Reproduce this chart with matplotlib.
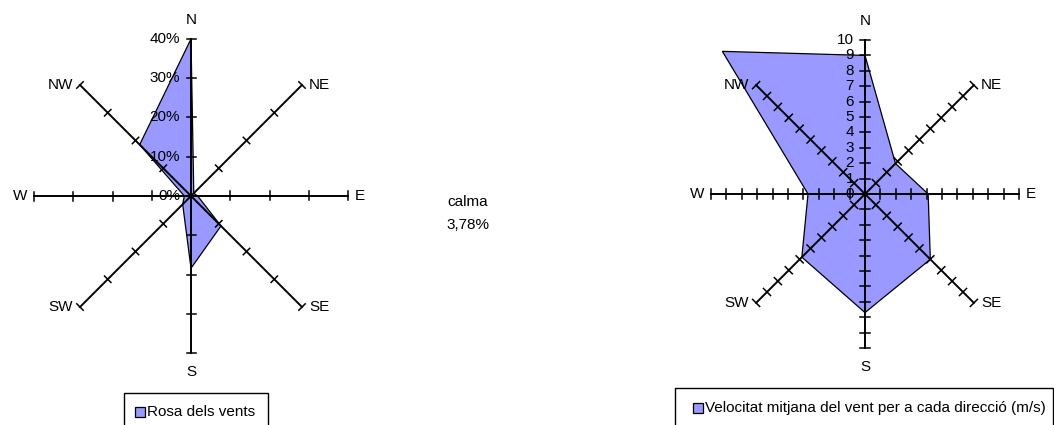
import numpy as np
import matplotlib.pyplot as plt
from matplotlib.patches import Rectangle

plt.rcParams['font.family'] = ['Liberation Sans', 'DejaVu Sans']

# wind data per direction
directions = ['N', 'NE', 'E', 'SE', 'S', 'SW', 'W', 'NW']
freq_pct = [40, 1.0, 1.7, 10.8, 18.4, 3.0, 1.7, 18.5]
speed_ms = [9.0, 2.8, 4.1, 6.0, 7.7, 5.8, 3.7, 13.1]
calm_pct = '3,78%'
freq_ticks = [0, 10, 20, 30, 40]
freq_labels = ['0%', '10%', '20%', '30%', '40%']
speed_ticks = list(range(0, 11))
speed_labels = [str(t) for t in speed_ticks]

W, H = 1054, 425
fig = plt.figure(figsize=(W / 100, H / 100), dpi=100)
FILL = '#9999FF'
FS = 11


def rose(cx, cy, rpx, ticks, tick_labels, values, tick_half):
    vmax = ticks[-1]
    s = vmax / rpx          # data units per pixel
    half = 220
    ax = fig.add_axes([(cx - half) / W, (H - cy - half) / H, 2 * half / W, 2 * half / H])
    ax.set_xlim(-half * s, half * s)
    ax.set_ylim(-half * s, half * s)
    ax.axis('off')

    ang = np.radians(np.arange(len(directions)) * 45.0)
    v = np.array(values)
    ax.fill(v * np.sin(ang), v * np.cos(ang), fc=FILL, ec='black', lw=0.9,
            zorder=1, clip_on=False)

    tl = tick_half * s
    for a, name in zip(ang, directions):
        dx, dy = np.sin(a), np.cos(a)
        ax.plot([0, vmax * dx], [0, vmax * dy], color='black', lw=1.4,
                zorder=2, clip_on=False)
        for t in ticks[1:]:
            px, py = t * dx, t * dy
            ax.plot([px - tl * dy, px + tl * dy], [py + tl * dx, py - tl * dx],
                    color='black', lw=1.1, zorder=2, clip_on=False)
        ex, ey = vmax * dx, vmax * dy
        if abs(dx) < 1e-6:
            ax.text(ex, ey + np.sign(dy) * 19 * s, name, ha='center', va='center',
                    fontsize=FS, clip_on=False)
        else:
            ax.text(ex + np.sign(dx) * 7 * s, ey, name,
                    ha='left' if dx > 0 else 'right', va='center',
                    fontsize=FS, clip_on=False)

    for t, lab in zip(ticks, tick_labels):
        ax.text(-11 * s, t, lab, ha='right', va='center', fontsize=FS,
                zorder=3, clip_on=False)
    return ax


rose(191, 196, 157, freq_ticks, freq_labels, freq_pct, 4.5)
rose(865, 194, 154, speed_ticks, speed_labels, speed_ms, 5.0)

fig.text(468 / W, 1 - 202 / H, 'calma', ha='center', va='center', fontsize=FS)
fig.text(468 / W, 1 - 225 / H, calm_pct, ha='center', va='center', fontsize=FS)


def legend_box(x0, y0, x1, mx, my, label):
    fig.patches.append(Rectangle((x0 / W, 1 - 445 / H), (x1 - x0) / W, (445 - y0) / H,
                                 transform=fig.transFigure, fc='white', ec='black', lw=1))
    fig.patches.append(Rectangle((mx / W, 1 - (my + 10) / H), 10 / W, 10 / H,
                                 transform=fig.transFigure, fc=FILL, ec='black', lw=0.9))
    fig.text((mx + 12) / W, 1 - (my + 5) / H, label, ha='left', va='center', fontsize=FS)


legend_box(124, 393, 268, 135, 407, 'Rosa dels vents')
legend_box(675, 388, 1053, 693, 403, 'Velocitat mitjana del vent per a cada direcció (m/s)')

fig.savefig('out.png', dpi=100)
